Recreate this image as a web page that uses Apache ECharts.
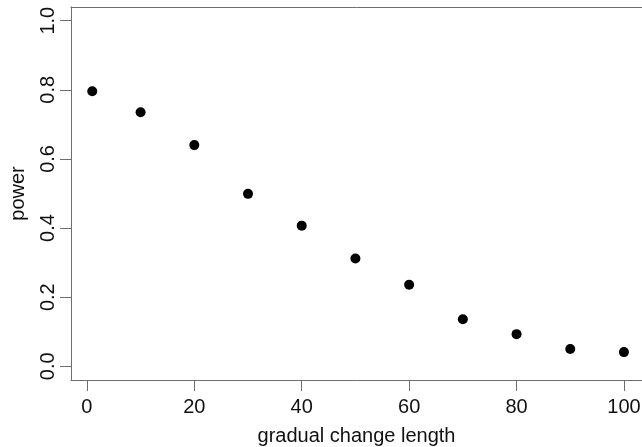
<!DOCTYPE html>
<html>
<head>
<meta charset="utf-8">
<script src="https://cdn.jsdelivr.net/npm/echarts@6.0.0/dist/echarts.min.js"></script>
<style>
html,body{margin:0;padding:0;background:#fff;}
#chart{width:642px;height:447px;}
</style>
</head>
<body>
<div id="chart"></div>
<script>
const xValues = [1, 10, 20, 30, 40, 50, 60, 70, 80, 90, 100];
const powerValues = [0.796, 0.735, 0.640, 0.499, 0.407, 0.312, 0.236, 0.136, 0.093, 0.050, 0.041];
const xTicks = [0, 20, 40, 60, 80, 100];
const yTicks = [0, 0.2, 0.4, 0.6, 0.8, 1.0];

const font = '"Liberation Sans", Arial, Helvetica, sans-serif';
const lineColor = '#6e6e6e';
const textColor = '#111111';

const chart = echarts.init(document.getElementById('chart'), null, {renderer: 'canvas'});
chart.setOption({
  animation: false,
  backgroundColor: '#ffffff',
  grid: {left: 71, top: 6.9, right: 0, bottom: 66.9, show: false, containLabel: false, outerBoundsMode: 'none'},
  xAxis: [{
    type: 'value',
    position: 'bottom',
    min: -2.96, max: 103.36,
    name: 'gradual change length',
    nameLocation: 'middle',
    nameGap: 46,
    nameTextStyle: {fontFamily: font, fontSize: 20, color: textColor},
    axisLine: {show: true, onZero: false, lineStyle: {color: lineColor, width: 1}},
    splitLine: {show: false},
    axisTick: {show: true, inside: false, length: 11, customValues: xTicks, lineStyle: {color: lineColor, width: 1}},
    axisLabel: {customValues: xTicks, margin: 17, fontFamily: font, fontSize: 20, color: textColor}
  }, {
    type: 'value',
    position: 'top',
    min: -2.96, max: 103.36,
    axisLine: {show: true, onZero: false, lineStyle: {color: lineColor, width: 1}},
    splitLine: {show: false},
    axisTick: {show: false},
    axisLabel: {show: false}
  }],
  yAxis: {
    type: 'value',
    position: 'left',
    min: -0.04, max: 1.04,
    name: 'power',
    nameLocation: 'middle',
    nameGap: 43,
    nameTextStyle: {fontFamily: font, fontSize: 20, color: textColor},
    axisLine: {show: true, onZero: false, lineStyle: {color: lineColor, width: 1}},
    splitLine: {show: false},
    axisTick: {show: true, inside: false, length: 11, customValues: yTicks, lineStyle: {color: lineColor, width: 1}},
    axisLabel: {
      customValues: yTicks, rotate: 90, margin: 13,
      fontFamily: font, fontSize: 20, color: textColor,
      formatter: v => v.toFixed(1)
    }
  },
  series: [{
    type: 'scatter',
    xAxisIndex: 0,
    data: xValues.map((x, i) => [x, powerValues[i]]),
    symbol: 'circle',
    symbolSize: 10,
    itemStyle: {color: '#000000', opacity: 1}
  }]
});
</script>
</body>
</html>
